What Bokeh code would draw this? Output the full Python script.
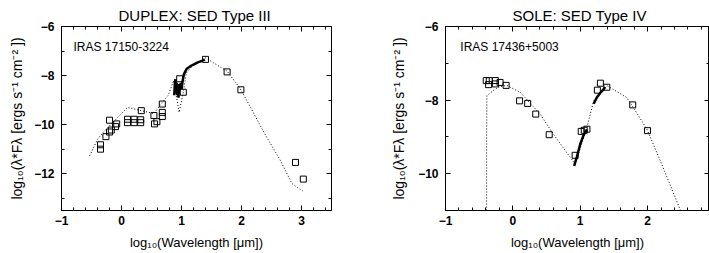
from bokeh.plotting import figure
from bokeh.models import LinearAxis, Range1d, FixedTicker, Label
from bokeh.layouts import row
from bokeh.embed import file_html
from bokeh.resources import INLINE

# ---------------- data: left panel (IRAS 17150-3224) ----------------
left_title = "DUPLEX: SED Type III"
left_name = "IRAS 17150-3224"
left_sq_x = [-0.35, -0.35, -0.26, -0.20, -0.17, -0.20, -0.10, -0.08, 0.10, 0.10, 0.21, 0.21,
             0.32, 0.32, 0.33, 0.54, 0.55, 0.59, 0.68, 0.68, 0.68, 0.97, 1.03, 1.40, 1.76, 1.99,
             2.90, 3.03]
left_sq_y = [-10.82, -11.00, -10.49, -10.30, -10.22, -9.82, -10.08, -9.97, -9.78, -9.92, -9.78, -9.92,
             -9.80, -9.92, -9.43, -9.63, -9.97, -9.88, -9.16, -9.50, -9.67, -8.13, -8.68, -7.34, -7.85, -8.58,
             -11.54, -12.22]
left_mod_x = [-0.53, -0.40, -0.30, -0.18, 0.10, 0.33, 0.54, 0.66, 0.78, 0.87, 0.96, 1.03, 1.08,
              1.20, 1.40, 1.76, 1.98, 2.15, 2.37, 2.65, 2.84, 2.93, 3.02]
left_mod_y = [-11.27, -10.60, -10.30, -10.00, -9.30, -9.43, -9.55, -9.15, -8.80, -8.20, -9.50, -8.68, -7.90,
              -7.55, -7.28, -7.82, -8.54, -9.29, -10.30, -11.47, -12.40, -12.56, -12.70]
left_spec_x = [0.88, 0.89, 0.90, 0.91, 0.92, 0.93, 0.94, 0.95, 0.96, 0.97, 0.98, 0.99, 1.00, 1.02,
               1.04, 1.06, 1.08, 1.10, 1.13, 1.16, 1.20, 1.24, 1.28, 1.32, 1.36, 1.39]
left_spec_y = [-8.80, -8.25, -8.15, -8.70, -8.30, -8.80, -8.40, -8.90, -8.35, -8.60, -8.40, -8.30, -8.55, -8.20,
               -7.95, -7.85, -7.75, -7.70, -7.65, -7.60, -7.55, -7.50, -7.45, -7.42, -7.38, -7.35]
left_xticks = [-1, 0, 1, 2, 3]
left_yticks = [-12, -10, -8, -6]

# ---------------- data: right panel (IRAS 17436+5003) ----------------
right_title = "SOLE: SED Type IV"
right_name = "IRAS 17436+5003"
right_sq_x = [-0.395, -0.35, -0.36, -0.26, -0.26, -0.19, -0.10, 0.10, 0.22, 0.34, 0.54, 0.925,
              1.015, 1.06, 1.10, 1.255, 1.30, 1.395, 1.78, 2.00]
right_sq_y = [-7.47, -7.47, -7.58, -7.47, -7.56, -7.52, -7.60, -8.02, -8.09, -8.38, -8.94, -9.50,
              -8.85, -8.82, -8.79, -7.73, -7.54, -7.65, -8.13, -8.83]
right_mod_x = [-0.39, -0.39, -0.385, -0.29, -0.20, -0.09, 0.11, 0.405, 0.60, 0.925, 1.10, 1.20,
               1.40, 1.69, 1.79, 1.99, 2.19, 2.49]
right_mod_y = [-11.00, -9.00, -7.88, -7.74, -7.64, -7.60, -7.79, -8.38, -8.92, -9.74, -8.74, -8.02,
               -7.61, -7.93, -8.20, -8.79, -9.65, -11.00]
right_spec_x = [0.91, 0.95, 1.00, 1.05, 1.10, float("nan"), 1.20, 1.25, 1.30, 1.34, 1.37]
right_spec_y = [-9.79, -9.55, -9.20, -8.95, -8.80, float("nan"), -8.10, -7.92, -7.80, -7.72, -7.65]
right_xticks = [-1, 0, 1, 2]
right_yticks = [-10, -8, -6]

XLABEL = "log₁₀(Wavelength [μm])"
YLABEL = "log₁₀(λ*Fλ [ergs s⁻¹ cm⁻² ])"
FONT = "Liberation Sans"
H = 253
TOP = 26
FRAME_H = 184


def minus(v):
    return ("−" + str(abs(v))) if v < 0 else str(v)


def style_axis(ax, show):
    ax.axis_line_color = "black"
    ax.major_tick_in = 5
    ax.major_tick_out = 0
    ax.minor_tick_in = 3
    ax.minor_tick_out = 0
    ax.major_tick_line_color = "black"
    ax.minor_tick_line_color = "black"
    if show:
        ax.major_label_text_font = FONT
        ax.major_label_text_font_size = "12px"
        ax.major_label_text_font_style = "bold"
        ax.major_label_text_color = "black"
        ax.axis_label_text_font = FONT
        ax.axis_label_text_font_size = "13px"
        ax.axis_label_text_font_style = "normal"
        ax.axis_label_text_color = "black"
    else:
        ax.major_label_text_font_size = "1px"
        ax.major_label_text_color = None
        ax.major_label_text_alpha = 0
        ax.major_label_standoff = 0
        ax.axis_label = None


def panel(width, bl, br, xr, yr, xticks, xminor, yticks, yminor, title, name, name_xy,
          sqx, sqy, mx, my, sx, sy, ylab_standoff, title_offset):
    p = figure(width=width, height=H, x_range=Range1d(*xr), y_range=Range1d(*yr),
               output_backend="svg", toolbar_location=None,
               min_border_left=bl, min_border_right=br, min_border_top=TOP,
               min_border_bottom=H - TOP - FRAME_H,
               x_axis_label=XLABEL, y_axis_label=YLABEL)
    p.grid.visible = False
    p.outline_line_color = "black"
    p.background_fill_color = "white"
    p.border_fill_color = "white"
    xt = FixedTicker(ticks=xticks, minor_ticks=xminor)
    yt = FixedTicker(ticks=yticks, minor_ticks=yminor)
    p.xaxis.ticker = xt
    p.yaxis.ticker = yt
    p.xaxis.major_label_overrides = {v: minus(v) for v in xticks}
    p.yaxis.major_label_overrides = {v: minus(v) for v in yticks}
    style_axis(p.xaxis[0], True)
    style_axis(p.yaxis[0], True)
    p.yaxis.axis_label_text_font_size = "14px"
    p.xaxis.major_label_standoff = 5
    p.yaxis.major_label_standoff = 7
    p.xaxis.axis_label_standoff = 7
    p.yaxis.axis_label_standoff = ylab_standoff
    top = LinearAxis(ticker=xt)
    style_axis(top, False)
    p.add_layout(top, "above")
    rgt = LinearAxis(ticker=yt)
    style_axis(rgt, False)
    p.add_layout(rgt, "right")

    p.title.text = title
    p.title.text_font = FONT
    p.title.text_font_size = "15px"
    p.title.text_font_style = "normal"
    p.title.text_color = "black"
    p.title.standoff = 5
    p.title.align = "left"
    p.title.offset = title_offset

    p.line(mx, my, line_color="black", line_width=1, line_dash="1 2")
    p.line(sx, sy, line_color="black", line_width=2.5)
    p.scatter(sqx, sqy, marker="square", size=6, fill_color=None, line_color="black", line_width=1)
    p.add_layout(Label(x=name_xy[0], y=name_xy[1], text=name, text_font=FONT, text_font_size="12px",
                       text_baseline="middle", text_color="black"))
    return p


lminor_x = [round(-1 + 0.2 * i, 1) for i in range(23)]
rminor_x = [round(-1 + 0.2 * i, 1) for i in range(20)]
p1 = panel(360, 61, 29, (-1, 3.5), (-13.5, -6), left_xticks, lminor_x, left_yticks,
           [-13, -12, -11, -10, -9, -8, -7, -6], left_title, left_name, (-0.8, -6.84),
           left_sq_x, left_sq_y, left_mod_x, left_mod_y, left_spec_x, left_spec_y, 6, 57)
p2 = panel(349, 85, 0, (-1, 2.92), (-11, -6), right_xticks, rminor_x, right_yticks,
           [-11, -10, -9, -8, -7, -6], right_title, right_name, (-0.78, -6.56),
           right_sq_x, right_sq_y, right_mod_x, right_mod_y, right_spec_x, right_spec_y, 8, 67)

layout = row(p1, p2)
open("out.html", "w").write(file_html(layout, INLINE))
